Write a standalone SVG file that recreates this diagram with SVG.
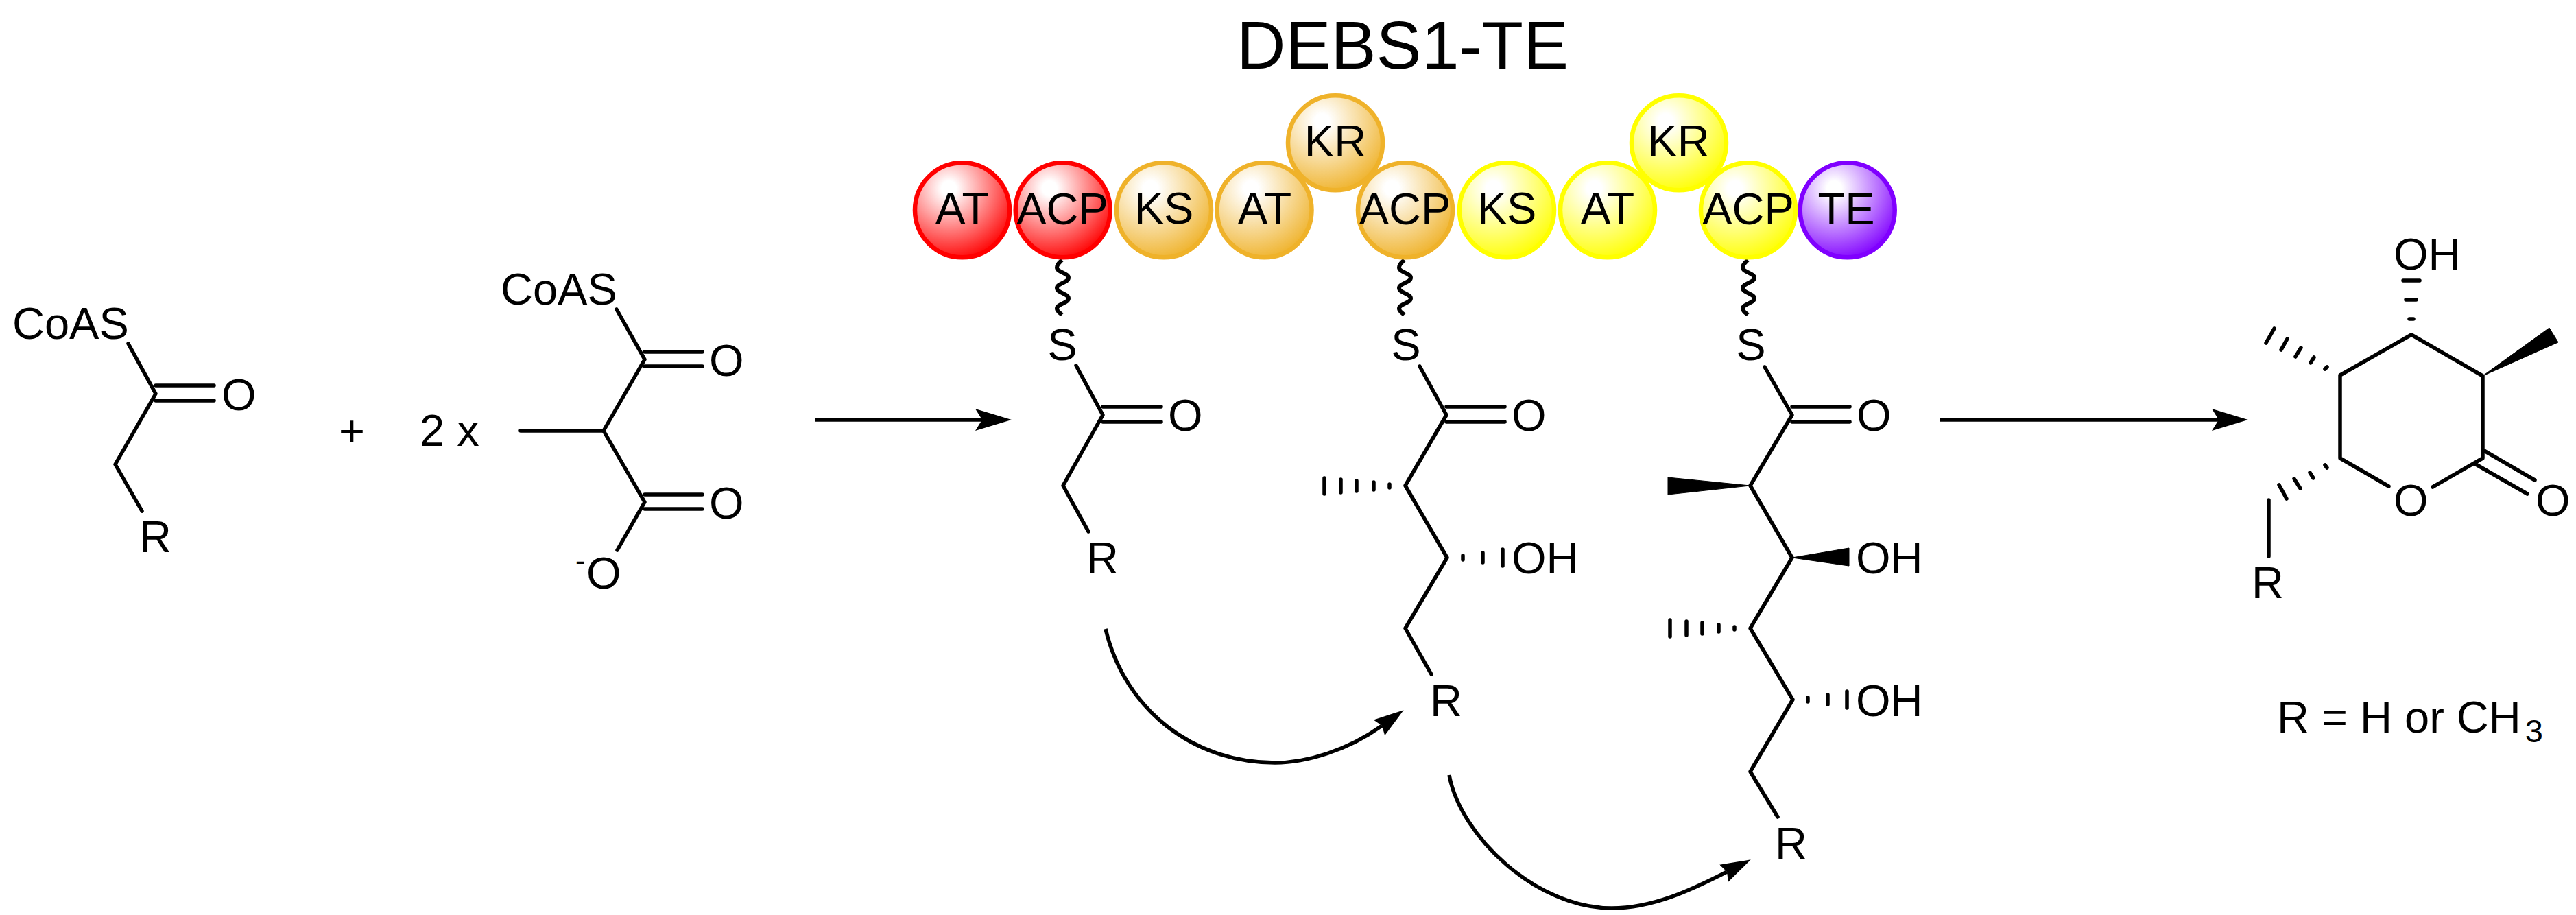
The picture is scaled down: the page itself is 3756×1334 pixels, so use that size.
<svg xmlns="http://www.w3.org/2000/svg" xmlns:xlink="http://www.w3.org/1999/xlink" width="3756" height="1334" viewBox="0 0 3756 1334">
<style>
text{font-family:"Liberation Sans",Arial,sans-serif;font-size:65px;fill:#000}
.t{text-anchor:middle}
.b{fill:none;stroke:#000;stroke-width:5.5;stroke-linecap:round;stroke-linejoin:round}
.h{fill:none;stroke:#000;stroke-width:5.5;stroke-linecap:round}
.w{fill:#000;stroke:#000;stroke-width:1}
.a{fill:none;stroke:#000;stroke-width:5.5}
.sq{fill:none;stroke:#000;stroke-width:6}
circle{stroke-width:6.5}
.red{fill:url(#gr);stroke:#ff0000}
.org{fill:url(#go);stroke:#efb22a}
.yel{fill:url(#gy);stroke:#ffff00}
.pur{fill:url(#gp);stroke:#8000ff}
</style>
<defs>
<radialGradient id="gr" cx=".36" cy=".27" r=".78"><stop offset=".1" stop-color="#fff"/><stop offset="1" stop-color="#ff0000"/></radialGradient>
<radialGradient id="go" cx=".36" cy=".27" r=".78"><stop offset=".1" stop-color="#fff"/><stop offset="1" stop-color="#efb22a"/></radialGradient>
<radialGradient id="gy" cx=".36" cy=".27" r=".78"><stop offset=".1" stop-color="#fff"/><stop offset="1" stop-color="#ffff00"/></radialGradient>
<radialGradient id="gp" cx=".36" cy=".27" r=".78"><stop offset=".1" stop-color="#fff"/><stop offset="1" stop-color="#8000ff"/></radialGradient>
<marker id="big" markerUnits="userSpaceOnUse" markerWidth="60" markerHeight="40" refX="10" refY="17" orient="auto"><path d="M0,1L53,17L0,33L10,17Z" fill="#000"/></marker>
<marker id="small" markerUnits="userSpaceOnUse" markerWidth="60" markerHeight="40" refX="5" refY="17" orient="auto"><path d="M0,3L44,17L0,31L5,17Z" fill="#000"/></marker>
<path id="sq" d="M-1,379C-5,383 -8.5,385 -8.5,390C-8.5,397 8.5,398 8.5,405C8.5,412 -8.5,413 -8.5,420C-8.5,427 8.5,428 8.5,435C8.5,442 -8.5,443 -8.5,450C-8.5,454 -4,456 -1,459"/>
</defs>
<text id="title" x="2045" y="100" class="t" style="font-size:99px">DEBS1-TE</text>
<g id="connectors">
<path class="a" d="M1188,612H1432" marker-end="url(#big)"/>
<path class="a" d="M2829,612H3235" marker-end="url(#big)"/>
<path class="a" d="M1612,917C1640,1035 1740,1112 1859,1112C1905,1112 1965,1094 2015,1058" marker-end="url(#small)"/>
<path class="a" d="M2113,1130C2130,1220 2240,1324 2350,1324C2410,1324 2465,1298 2518,1271" marker-end="url(#small)"/>
<use class="sq" xlink:href="#sq" href="#sq" x="1549.5"/>
<use class="sq" xlink:href="#sq" href="#sq" x="2048.5"/>
<use class="sq" xlink:href="#sq" href="#sq" x="2549.5"/>
</g>
<g id="domains">
<g id="d-at1"><circle class="red" cx="1403" cy="306.3" r="69"/><text class="t" x="1403" y="326">AT</text></g>
<g id="d-acp1"><circle class="red" cx="1549.7" cy="306.3" r="69"/><text class="t" x="1549" y="327">ACP</text></g>
<g id="d-ks1"><circle class="org" cx="1697" cy="306.3" r="69"/><text class="t" x="1697" y="326">KS</text></g>
<g id="d-at2"><circle class="org" cx="1843.5" cy="306.3" r="69"/><text class="t" x="1844" y="326">AT</text></g>
<g id="d-kr1"><circle class="org" cx="1947" cy="208.3" r="69"/><text class="t" x="1947" y="228">KR</text></g>
<g id="d-acp2"><circle class="org" cx="2049" cy="306.3" r="69"/><text class="t" x="2048.5" y="327">ACP</text></g>
<g id="d-ks2"><circle class="yel" cx="2197" cy="306.3" r="69"/><text class="t" x="2197" y="326">KS</text></g>
<g id="d-at3"><circle class="yel" cx="2344" cy="306.3" r="69"/><text class="t" x="2344" y="326">AT</text></g>
<g id="d-kr2"><circle class="yel" cx="2448" cy="208.3" r="69"/><text class="t" x="2447.5" y="228">KR</text></g>
<g id="d-acp3"><circle class="yel" cx="2549" cy="306.3" r="69"/><text class="t" x="2549" y="327">ACP</text></g>
<g id="d-te"><circle class="pur" cx="2693.7" cy="306.3" r="69"/><text class="t" x="2692" y="327">TE</text></g>
</g>
<g id="propionyl-coa">
<text x="18" y="494">CoAS</text>
<polyline class="b" points="187,501 227,574 168,677 207,745"/>
<path class="b" d="M227,562H312M227,584H312"/>
<text x="323" y="598">O</text>
<text x="203" y="805">R</text>
</g>
<text id="plus" class="t" x="513" y="651">+</text>
<text id="times" x="612" y="650">2 x</text>
<g id="malonyl-coa">
<text x="730" y="444">CoAS</text>
<polyline class="b" points="899,451 940,524 880,628 940,732 900,802"/>
<path class="b" d="M759,628H880M940,513H1024M940,534H1024M940,721H1024M940,742H1024"/>
<text x="1034" y="548">O</text>
<text x="1034" y="756">O</text>
<text x="839" y="832" style="font-size:43px">-</text>
<text x="855" y="858">O</text>
</g>
<g id="intermediate-1">
<text class="t" x="1549" y="525">S</text>
<polyline class="b" points="1569,533 1608,605 1550,708 1587,775"/>
<path class="b" d="M1608,593H1693M1608,615H1693"/>
<text x="1703" y="628">O</text>
<text x="1584" y="836">R</text>
</g>
<g id="intermediate-2">
<text class="t" x="2050" y="525">S</text>
<polyline class="b" points="2070,534 2109,605 2049,708 2110,813 2049,916 2087,983"/>
<path class="b" d="M2109,593H2194M2109,615H2194"/>
<path class="h" d="M1931,697V720M1955,699V718M1978,701V716M2003,703V714M2026,706V711M2133,810V816M2162,806V820M2191,801V825"/>
<text x="2204" y="628">O</text>
<text x="2204" y="836">OH</text>
<text x="2085" y="1044">R</text>
</g>
<g id="intermediate-3">
<text class="t" x="2553" y="525">S</text>
<polyline class="b" points="2573,535 2613,605 2552,708 2613,813 2552,916 2614,1020 2552,1125 2592,1191"/>
<path class="b" d="M2613,593H2697M2613,615H2697"/>
<path class="w" d="M2552,708L2432,696V721Z"/>
<path class="w" d="M2613,813L2696,799V825Z"/>
<path class="h" d="M2435,904V928M2459,906V926M2482,908V924M2506,911V921M2529,914V918M2636,1017V1023M2665,1013V1027M2693,1008V1032"/>
<text x="2707" y="628">O</text>
<text x="2706" y="836">OH</text>
<text x="2706" y="1044">OH</text>
<text x="2588" y="1252">R</text>
</g>
<g id="product">
<polyline class="b" points="3483,709 3412,668 3412,547 3516,488 3620,548 3620,668 3547,710"/>
<path class="b" d="M3622,657L3696,700M3610,677L3685,720M3308,729V811"/>
<path class="w" d="M3620,548L3717,478L3730,499Z"/>
<path class="h" d="M3504,409H3528M3508,437H3523M3513,465H3519"/>
<path class="h" d="M3304,500L3316,479M3326,510L3335,494M3347,520L3355,507M3369,529L3374,521M3390,538L3393,535"/>
<path class="h" d="M3323,707L3334,727M3345,698L3354,712M3368,689L3373,697M3390,678L3393,682"/>
<text x="3490" y="392.500">OH</text>
<text x="3490" y="752">O</text>
<text x="3697" y="752">O</text>
<text x="3283" y="872">R</text>
</g>
<text id="r-def" x="3320" y="1068">R = H or CH<tspan style="font-size:47px" dx="6" dy="13.500">3</tspan></text>
</svg>
